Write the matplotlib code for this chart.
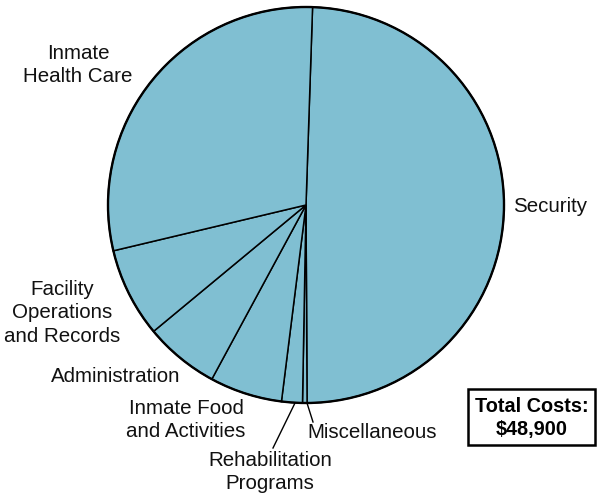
import matplotlib
matplotlib.use("Agg")
import matplotlib.pyplot as plt
from matplotlib.patches import Rectangle

# couts annuels par detenu (dollars)
categories = ["Security", "Miscellaneous", "Rehabilitation\nPrograms",
              "Inmate Food\nand Activities", "Administration",
              "Facility\nOperations\nand Records", "Inmate\nHealth Care"]
costs = [24150, 180, 830, 2890, 2980, 3570, 14300]
total_label = "Total Costs:\n$48,900"

plt.rcParams["font.family"] = ["Liberation Sans", "DejaVu Sans"]

fig = plt.figure(figsize=(5.98, 4.95), dpi=100)
ax = fig.add_axes([0, 0, 1, 1])
H = 495

# pie centre et rayon en pixels
cx, cy, r = 306, H - 205, 198
wedges, _ = ax.pie(costs, center=(cx, cy), radius=r, startangle=88.1,
                   counterclock=False, colors=["#80bfd2"] * len(costs),
                   wedgeprops=dict(edgecolor="black", linewidth=1.1))
ax.add_patch(plt.Circle((cx, cy), r, fill=False, edgecolor="black", linewidth=1.7))

# position des etiquettes (pixels, origine en haut a gauche)
label_pos = [(513, 206, "left"), (307, 432, "left"), (270, 472, "center"),
             (186, 420, "center"), (116, 376, "center"), (62, 313, "center"),
             (78, 65, "center")]
for name, (x, y, ha) in zip(categories, label_pos):
    ax.text(x, H - y, name, ha=ha, va="center", fontsize=14.8,
            linespacing=1.28, color="#111111")

# lignes de rappel
ax.plot([295, 273], [H - 403, H - 448], color="black", lw=1)
ax.plot([307, 313], [H - 403, H - 422], color="black", lw=1)

# encadre du total
ax.add_patch(Rectangle((468, H - 445), 127, 56, fill=False, edgecolor="black",
                       linewidth=1.8))
ax.text(531.5, H - 418, total_label, ha="center", va="center", fontsize=14.3,
        fontweight="bold", linespacing=1.28)

ax.set_xlim(0, 598)
ax.set_ylim(0, H)
ax.set_aspect("equal")
ax.axis("off")

fig.savefig("out.png", dpi=100)
